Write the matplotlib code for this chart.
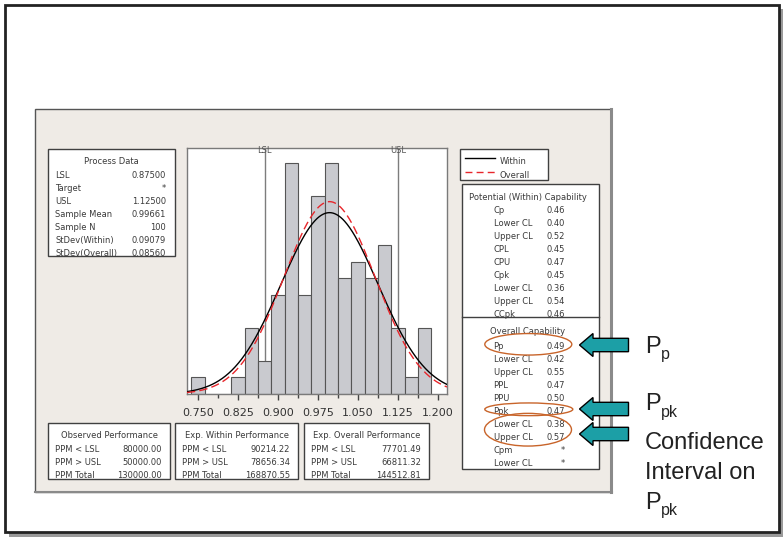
import numpy as np
import matplotlib
matplotlib.use("Agg")
import matplotlib.pyplot as plt
from matplotlib.patches import Rectangle, Ellipse, Polygon

# ---- data ----
bin_centers = [0.750, 0.775, 0.800, 0.825, 0.850, 0.875, 0.900, 0.925, 0.950,
               0.975, 1.000, 1.025, 1.050, 1.075, 1.100, 1.125, 1.150, 1.175]
counts = [1, 0, 0, 1, 4, 2, 6, 14, 6, 12, 14, 7, 8, 7, 9, 4, 1, 4]
bin_width = 0.025
lsl, usl = 0.875, 1.125
mean = 0.99661
n_obs = 100
sd_within = 0.09079
sd_overall = 0.08560
xticks = [0.750, 0.825, 0.900, 0.975, 1.050, 1.125, 1.200]

proc_labels = ["LSL", "Target", "USL", "Sample Mean", "Sample N",
               "StDev(Within)", "StDev(Overall)"]
proc_values = ["0.87500", "*", "1.12500", "0.99661", "100", "0.09079", "0.08560"]

pot_labels = ["Cp", "Lower CL", "Upper CL", "CPL", "CPU", "Cpk",
              "Lower CL", "Upper CL", "CCpk"]
pot_values = ["0.46", "0.40", "0.52", "0.45", "0.47", "0.45", "0.36", "0.54", "0.46"]

ovr_labels = ["Pp", "Lower CL", "Upper CL", "PPL", "PPU", "Ppk",
              "Lower CL", "Upper CL", "Cpm", "Lower CL"]
ovr_values = ["0.49", "0.42", "0.55", "0.47", "0.50", "0.47", "0.38", "0.57", "*", "*"]

perf_titles = ["Observed Performance", "Exp. Within Performance",
               "Exp. Overall Performance"]
perf_labels = ["PPM < LSL", "PPM > USL", "PPM Total"]
perf_values = [["80000.00", "50000.00", "130000.00"],
               ["90214.22", "78656.34", "168870.55"],
               ["77701.49", "66811.32", "144512.81"]]

W, H = 783, 539
txt_col = "#3a3a3a"
box_col = "#404040"
panel_col = "#efebe6"

fig = plt.figure(figsize=(W / 100, H / 100), dpi=100)
fig.patch.set_facecolor("white")

# overlay axes in pixel units (y down)
ax0 = fig.add_axes([0, 0, 1, 1])
ax0.set_xlim(0, W)
ax0.set_ylim(H, 0)
ax0.axis("off")

# outer slide frame with shadow
ax0.add_patch(Rectangle((9, 9), 774, 528, facecolor="#9a9a9a", edgecolor="none"))
ax0.add_patch(Rectangle((4.5, 4.5), 774, 527, facecolor="white",
                        edgecolor="#222222", lw=2))

# minitab panel
ax0.add_patch(Rectangle((35, 108.5), 576, 383, facecolor=panel_col,
                        edgecolor="#555555", lw=1))
ax0.plot([611, 611], [109, 492], color="#8a8a8a", lw=2.2)
ax0.plot([35, 612], [491.5, 491.5], color="#8a8a8a", lw=1.5)


def box(x0, y0, x1, y1):
    r = Rectangle((x0, y0), x1 - x0, y1 - y0, facecolor="white",
                  edgecolor=box_col, lw=1, zorder=2)
    ax0.add_patch(r)
    return r


def put(x, y, s, r, ha="left"):
    t = ax0.text(x, y, s, fontsize=6, color=txt_col, ha=ha, va="center",
                 zorder=3)
    t.set_clip_path(r)
    return t


# process data box
r = box(47.5, 148.5, 174.5, 255.5)
put(111, 162, "Process Data", r, ha="center")
for i, (lab, val) in enumerate(zip(proc_labels, proc_values)):
    y = 175.7 + i * 12.9
    put(55, y, lab, r)
    put(166, y, val, r, ha="right")

# legend box
r = box(460, 148.5, 547.5, 180)
ax0.plot([465, 495], [157.7, 157.7], color="black", lw=1, zorder=3)
ax0.plot([465, 495], [172.3, 172.3], color="#e8262b", lw=1, zorder=3,
         dashes=(5, 3))
put(500, 161, "Within", r)
put(500, 175.5, "Overall", r)

# potential / overall capability box
r = box(461.5, 184, 598.5, 468.5)
ax0.plot([461.5, 598.5], [316.7, 316.7], color=box_col, lw=1, zorder=4)
put(528, 197, "Potential (Within) Capability", r, ha="center")
for i, (lab, val) in enumerate(zip(pot_labels, pot_values)):
    y = 210.7 + i * 13.0
    put(493.5, y, lab, r)
    put(565, y, val, r, ha="right")
put(528, 331, "Overall Capability", r, ha="center")
for i, (lab, val) in enumerate(zip(ovr_labels, ovr_values)):
    y = 346.7 + i * 13.0
    put(493.5, y, lab, r)
    put(565, y, val, r, ha="right")

# performance boxes
perf_boxes = [(48.3, 170), (175, 298.3), (304.3, 429.3)]
for (x0, x1), title, vals in zip(perf_boxes, perf_titles, perf_values):
    r = box(x0, 422.7, x1, 479.3)
    put((x0 + x1) / 2, 436, title, r, ha="center")
    for j, (lab, val) in enumerate(zip(perf_labels, vals)):
        y = 450 + j * 12.7
        put(x0 + 7, y, lab, r)
        put(x1 - 8, y, val, r, ha="right")

# highlight ellipses
orange = "#c8642a"
for cx, cy, w, h in [(528.3, 344.3, 87, 21.5), (528.8, 409.3, 88, 12.7),
                     (528, 429.7, 87, 32.7)]:
    ax0.add_patch(Ellipse((cx, cy), w, h, fill=False, edgecolor=orange,
                          lw=1, zorder=5))

# teal arrows
teal = "#1c9fa6"
for cy in [345, 409, 434]:
    pts = [(579.5, cy), (593, cy - 11.5), (593, cy - 6.7), (628.5, cy - 6.7),
           (628.5, cy + 6.7), (593, cy + 6.7), (593, cy + 11.5)]
    ax0.add_patch(Polygon(pts, closed=True, facecolor=teal,
                          edgecolor="black", lw=1, zorder=6))

# annotation text on the right
big = dict(fontsize=17, family="Liberation Sans", color="#222222",
           va="baseline", ha="left")
small = dict(fontsize=11.5, family="Liberation Sans", color="#222222",
             va="baseline", ha="left")
ax0.text(645, 353.3, "P", **big)
ax0.text(660.5, 359.5, "p", **small)
ax0.text(645, 410, "P", **big)
ax0.text(660.5, 416.5, "pk", **small)
ax0.text(645, 449.3, "Confidence", **big)
ax0.text(645, 479.3, "Interval on", **big)
ax0.text(645, 509.3, "P", **big)
ax0.text(660.5, 515, "pk", **small)

# ---- histogram ----
ax = fig.add_axes([187 / W, (H - 394) / H, 260 / W, 246 / H])
ax.set_facecolor("white")
xmin, xmax = 0.7294, 1.2169
ax.set_xlim(xmin, xmax)
ax.set_ylim(0, 14.9)

ax.axvline(lsl, color="#7d7d7d", lw=1, zorder=1)
ax.axvline(usl, color="#7d7d7d", lw=1, zorder=1)
ax.bar(bin_centers, counts, width=bin_width, color="#c9cacf",
       edgecolor="#555555", lw=0.8, zorder=2)

xs = np.linspace(xmin, xmax, 400)
scale = n_obs * bin_width
yw = scale * np.exp(-0.5 * ((xs - mean) / sd_within) ** 2) / (sd_within * np.sqrt(2 * np.pi))
yo = scale * np.exp(-0.5 * ((xs - mean) / sd_overall) ** 2) / (sd_overall * np.sqrt(2 * np.pi))
ax.plot(xs, yw, color="black", lw=1, zorder=3)
ax.plot(xs, yo, color="#e8262b", lw=1, dashes=(6, 3), zorder=3)

# spec-limit labels sit on the top frame
for v, lab in [(lsl, "LSL"), (usl, "USL")]:
    ax.text(v, 14.75, lab, fontsize=6, color="#555555", ha="center",
            va="center", clip_on=False, zorder=4)

ax.set_xticks(xticks)
ax.set_xticklabels(["{:.3f}".format(v) for v in xticks])
ax.set_xticks([v + 0.0375 for v in xticks[:-1]], minor=True)
ax.set_yticks([])
ax.tick_params(axis="x", which="major", length=4, width=1, color="#444444",
               labelsize=8, labelcolor="#333333", pad=6)
ax.tick_params(axis="x", which="minor", length=3, width=1, color="#444444")
for sp in ax.spines.values():
    sp.set_color("#7a7a7a")
    sp.set_linewidth(1)

fig.savefig("out.png", dpi=100)
